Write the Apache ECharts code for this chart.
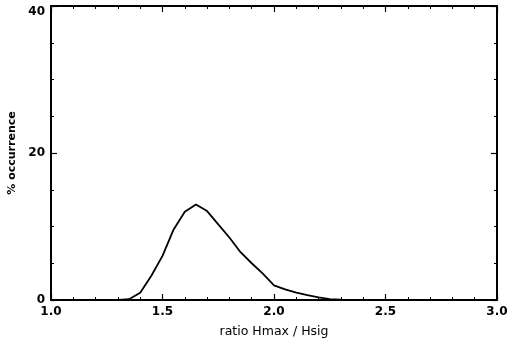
<!DOCTYPE html>
<html>
<head>
<meta charset="utf-8">
<script src="https://cdn.jsdelivr.net/npm/echarts@6/dist/echarts.min.js"></script>
<style>
html,body{margin:0;padding:0;background:#fff;}
#chart{width:508px;height:344px;}
</style>
</head>
<body>
<div id="chart"></div>
<script>
const ratio = [1.30,1.35,1.40,1.45,1.50,1.55,1.60,1.65,1.70,1.75,1.80,1.85,1.90,1.95,2.00,2.05,2.10,2.15,2.20,2.25,2.30,2.35,2.40];
const occurrence = [0,0.1,1.0,3.3,6.0,9.6,12.0,13.0,12.1,10.3,8.5,6.5,5.0,3.6,2.0,1.45,1.0,0.65,0.35,0.12,0.05,0,0];
const xTicks = [1.0,1.5,2.0,2.5,3.0];
const yTicks = [0,20,40];

const chart = echarts.init(document.getElementById('chart'));
const lineStyle = {color:'#000', width:2};
const labelFont = {color:'#000', fontFamily:'DejaVu Sans', fontWeight:'bold', fontSize:12};
chart.setOption({
  animation:false,
  backgroundColor:'#fff',
  grid:{left:51, right:11, top:6, bottom:44, show:false, containLabel:false, outerBoundsMode:'none'},
  xAxis:[{
    type:'value', min:xTicks[0], max:xTicks[xTicks.length-1], interval:0.5,
    axisLine:{show:true, onZero:false, lineStyle},
    axisTick:{show:true, inside:true, length:6, lineStyle:{color:'#000', width:1.2}},
    minorTick:{show:true, splitNumber:5, length:3, lineStyle:{color:'#000', width:1}},
    splitLine:{show:false},
    axisLabel:Object.assign({margin:6, formatter:v=>v.toFixed(1)}, labelFont),
    name:'ratio Hmax / Hsig', nameLocation:'middle', nameGap:25,
    nameTextStyle:{color:'#000', fontFamily:'DejaVu Sans', fontSize:12.5}
  },{
    type:'value', position:'top', min:xTicks[0], max:xTicks[xTicks.length-1], interval:0.5,
    axisLine:{show:true, onZero:false, lineStyle},
    axisTick:{show:true, inside:true, length:6, lineStyle:{color:'#000', width:1.2}},
    minorTick:{show:true, splitNumber:5, length:3, lineStyle:{color:'#000', width:1}},
    splitLine:{show:false}, axisLabel:{show:false}
  }],
  yAxis:[{
    type:'value', min:yTicks[0], max:yTicks[yTicks.length-1], interval:20,
    axisLine:{show:true, onZero:false, lineStyle},
    axisTick:{show:true, inside:true, length:6, lineStyle:{color:'#000', width:1.2}},
    minorTick:{show:true, splitNumber:4, length:3, lineStyle:{color:'#000', width:1}},
    splitLine:{show:false},
    axisLabel:Object.assign({
      margin:6,
      formatter:v=> v===yTicks[yTicks.length-1] ? '{top|'+v+'}' : String(v),
      rich:{top:{fontFamily:'DejaVu Sans', fontWeight:'bold', fontSize:12, color:'#000', padding:[12,0,0,0]}}
    }, labelFont),
    name:'% occurrence', nameLocation:'middle', nameGap:32,
    nameTextStyle:{color:'#000', fontFamily:'DejaVu Sans', fontWeight:'bold', fontSize:11}
  },{
    type:'value', position:'right', min:yTicks[0], max:yTicks[yTicks.length-1], interval:20,
    axisLine:{show:true, onZero:false, lineStyle},
    axisTick:{show:true, inside:true, length:6, lineStyle:{color:'#000', width:1.2}},
    minorTick:{show:true, splitNumber:4, length:3, lineStyle:{color:'#000', width:1}},
    splitLine:{show:false}, axisLabel:{show:false}
  }],
  series:[{
    type:'line',
    data:ratio.map((r,i)=>[r, occurrence[i]]),
    showSymbol:false, smooth:false,
    lineStyle:{color:'#000', width:1.8}
  }]
});
</script>
</body>
</html>
